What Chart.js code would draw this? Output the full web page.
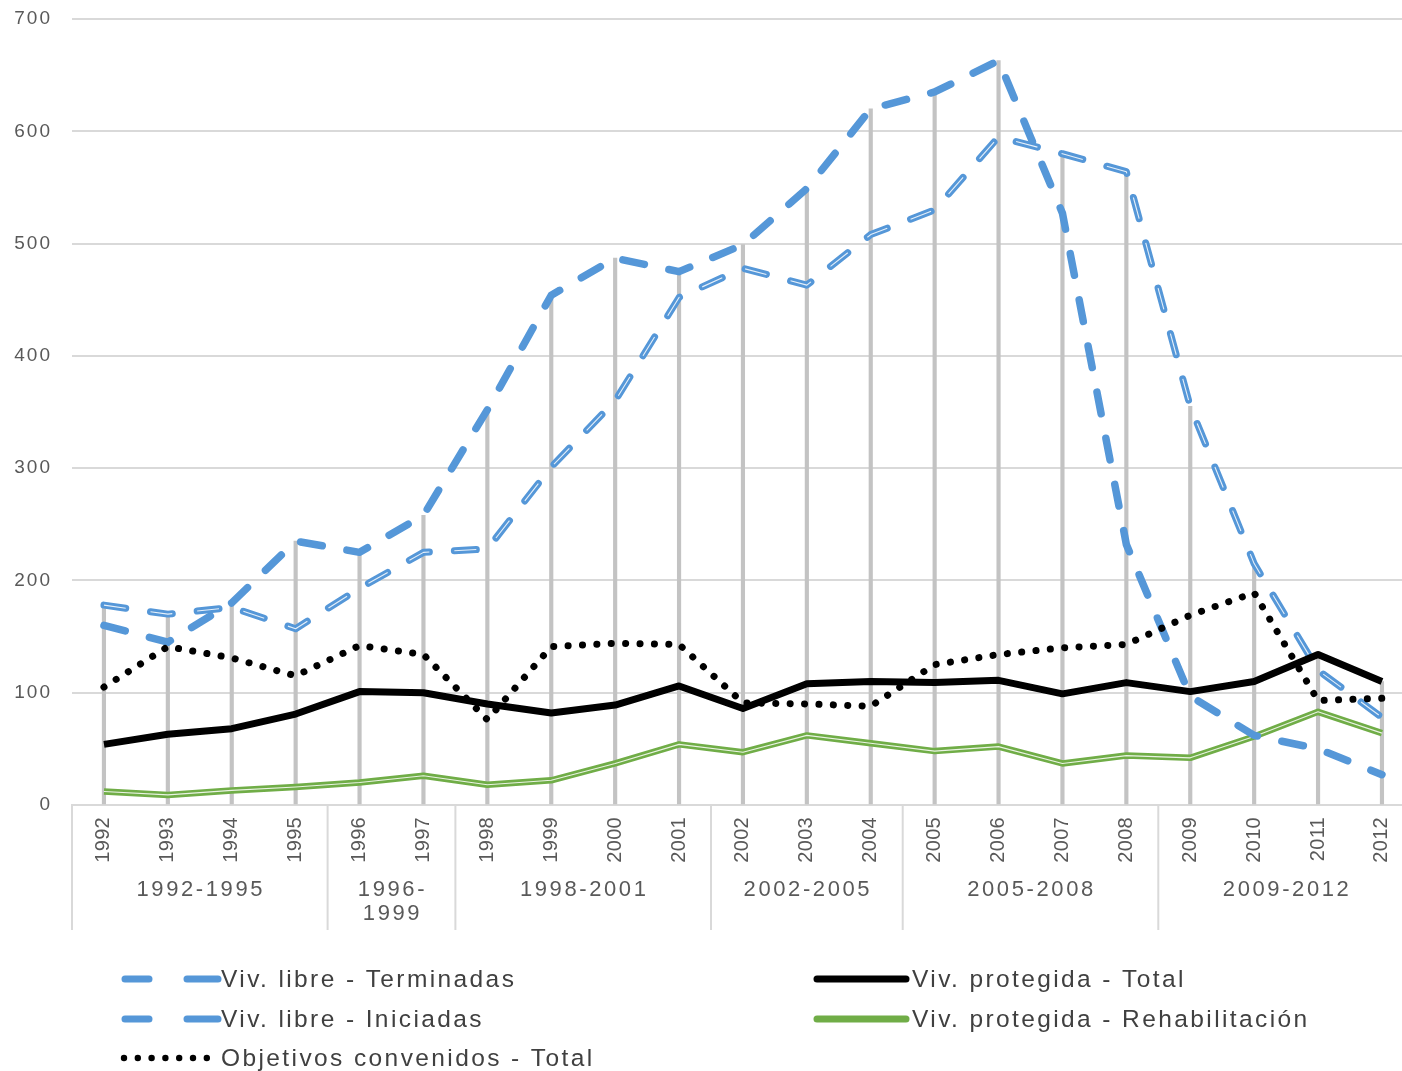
<!DOCTYPE html>
<html>
<head>
<meta charset="utf-8">
<script src="https://cdn.jsdelivr.net/npm/chart.js@4.4.1/dist/chart.umd.min.js"></script>
<style>
  html, body { margin: 0; padding: 0; background: #fff; overflow: hidden; }
  #wrap { width: 1418px; height: 1071px; position: relative; }
</style>
</head>
<body>
<div id="wrap"><canvas id="chart"></canvas></div>
<script>
// years on the x axis and the plan periods grouped under them
const years = ['1992', '1993', '1994', '1995', '1996', '1997', '1998', '1999', '2000', '2001', '2002',
  '2003', '2004', '2005', '2006', '2007', '2008', '2009', '2010', '2011', '2012'];
const periodLabels = [['1992-1995'], ['1996-', '1999'], ['1998-2001'], ['2002-2005'], ['2005-2008'], ['2009-2012']];
const periodSizes = [4, 2, 4, 3, 4, 4];

// series (thousands of dwellings)
const libreTerminadas = [178, 170, 176, 157, 193, 225, 228, 301, 360, 452, 478, 463, 508, 530, 595, 580, 564, 355, 215, 120, 78];
const libreIniciadas = [160, 145, 180, 235, 225, 258, 352, 454, 487, 475, 499, 549, 620, 635, 663, 527, 232, 97, 62, 50, 27];
const objetivosTotal = [105, 141, 131, 115, 142, 134, 76, 141, 144, 143, 91, 90, 88, 125, 134, 140, 143, 169, 189, 93, 95];
const protegidaTotal = [54, 63, 68, 81, 101, 100, 90, 82, 89, 106, 86, 108, 110, 109, 111, 99, 109, 101, 110, 134, 110];
const protegidaRehab = [12, 9, 13, 16, 20, 26, 18, 22, 37, 54, 47, 62, 55, 48, 52, 37, 44, 42, 61, 83, 64];

const seriesLabels = ['Viv. libre - Terminadas', 'Viv. libre - Iniciadas', 'Objetivos convenidos - Total',
  'Viv. protegida - Total', 'Viv. protegida - Rehabilitación'];

// drop lines reach up to the highest series at each year
const dropTops = years.map((_, i) => Math.max(libreTerminadas[i], libreIniciadas[i], objetivosTotal[i],
  protegidaTotal[i], protegidaRehab[i]));

const BLUE = '#5597d8';
const GREEN = '#70ad47';
const TEXT = '#595959';
const FONT = '"Liberation Sans", Arial, sans-serif';
const BLUE_DASH = [22, 25];

const spacing = {
  id: 'spacing',
  beforeLayout(chart) { chart.ctx.letterSpacing = '2px'; },
  beforeDraw(chart) { chart.ctx.letterSpacing = '2px'; },
  afterLayout(chart) {
    // year labels are set tighter than the rest of the text
    const sx = chart.scales.x;
    if (sx._tightWrapped) return;
    const orig = sx.drawLabels;
    sx.drawLabels = function (area) {
      const prev = this.ctx.letterSpacing;
      this.ctx.letterSpacing = '0.3px';
      orig.call(this, area);
      this.ctx.letterSpacing = prev;
    };
    sx._tightWrapped = true;
  }
};

// thin white stripe inside the "double" lines
const innerLine = {
  id: 'innerLine',
  afterDatasetDraw(chart, args) {
    const ds = chart.data.datasets[args.index];
    if (!ds.innerLine) return;
    const pts = args.meta.data;
    const ctx = chart.ctx;
    ctx.save();
    ctx.beginPath();
    pts.forEach((p, i) => i ? ctx.lineTo(p.x, p.y) : ctx.moveTo(p.x, p.y));
    ctx.setLineDash(ds.borderDash || []);
    ctx.lineWidth = 1.1;
    ctx.strokeStyle = 'rgba(255,255,255,0.85)';
    ctx.lineCap = 'butt';
    ctx.lineJoin = 'round';
    ctx.stroke();
    ctx.restore();
  }
};

const periodsAndLegend = {
  id: 'periodsAndLegend',
  afterDraw(chart) {
    const x = chart.scales.x;
    const ctx = chart.ctx;
    const top = chart.chartArea.bottom;
    const half = (x.getPixelForValue(1) - x.getPixelForValue(0)) / 2;
    ctx.save();
    ctx.strokeStyle = '#d9d9d9';
    ctx.lineWidth = 2;
    ctx.fillStyle = TEXT;
    ctx.font = '22px ' + FONT;
    ctx.letterSpacing = '2.6px';
    ctx.textAlign = 'center';
    ctx.textBaseline = 'middle';
    let start = 0;
    const left0 = x.getPixelForValue(0) - half;
    ctx.beginPath();
    ctx.moveTo(left0, top);
    ctx.lineTo(left0, 930);
    ctx.stroke();
    periodSizes.forEach((n, g) => {
      const l = x.getPixelForValue(start) - half;
      const r = x.getPixelForValue(start + n - 1) + half;
      ctx.beginPath();
      ctx.moveTo(r, top);
      ctx.lineTo(r, 930);
      ctx.stroke();
      periodLabels[g].forEach((t, k) => ctx.fillText(t, (l + r) / 2 + 1, 890 + k * 24));
      start += n;
    });

    // legend, two columns
    const ds = chart.data.datasets;
    const rows = [979, 1019, 1058];
    const items = [
      { i: 0, x: 120, tx: 221, y: rows[0] },
      { i: 1, x: 120, tx: 221, y: rows[1] },
      { i: 2, x: 120, tx: 221, y: rows[2] },
      { i: 3, x: 814, tx: 912, y: rows[0] },
      { i: 4, x: 814, tx: 912, y: rows[1] }
    ];
    ctx.letterSpacing = '2.4px';
    ctx.font = '24.5px ' + FONT;
    ctx.textAlign = 'left';
    items.forEach(it => {
      const d = ds[it.i];
      ctx.strokeStyle = d.borderColor;
      ctx.fillStyle = d.borderColor;
      ctx.lineCap = 'round';
      ctx.setLineDash([]);
      if (it.i <= 1) {
        ctx.lineWidth = 7;
        ctx.beginPath();
        ctx.moveTo(it.x + 5, it.y); ctx.lineTo(it.x + 29, it.y);
        ctx.moveTo(it.x + 67, it.y); ctx.lineTo(it.x + 98, it.y);
        ctx.stroke();
      } else if (it.i === 2) {
        for (let k = 0; k < 7; k++) {
          ctx.beginPath();
          ctx.arc(it.x + 4 + k * 13.8, it.y, 3.2, 0, Math.PI * 2);
          ctx.fill();
        }
      } else {
        ctx.lineWidth = 7;
        ctx.beginPath();
        ctx.moveTo(it.x + 3, it.y); ctx.lineTo(it.x + 92, it.y);
        ctx.stroke();
      }
      ctx.fillStyle = '#404040';
      ctx.fillText(d.label, it.tx, it.y + 1);
    });
    ctx.restore();
  }
};

new Chart(document.getElementById('chart'), {
  type: 'line',
  data: {
    labels: years,
    datasets: [{
      label: seriesLabels[0],
      data: libreTerminadas,
      borderColor: BLUE,
      borderWidth: 7,
      borderDash: BLUE_DASH,
      borderCapStyle: 'round',
      borderJoinStyle: 'round',
      innerLine: true,
      order: 3
    }, {
      label: seriesLabels[1],
      data: libreIniciadas,
      borderColor: BLUE,
      borderWidth: 7.5,
      borderDash: BLUE_DASH,
      borderCapStyle: 'round',
      borderJoinStyle: 'round',
      order: 4
    }, {
      label: seriesLabels[2],
      data: objetivosTotal,
      borderColor: '#000000',
      borderWidth: 7,
      borderDash: [0.1, 14.3],
      borderCapStyle: 'round',
      order: 1
    }, {
      label: seriesLabels[3],
      data: protegidaTotal,
      borderColor: '#000000',
      borderWidth: 7,
      borderJoinStyle: 'round',
      order: 2
    }, {
      label: seriesLabels[4],
      data: protegidaRehab,
      borderColor: GREEN,
      borderWidth: 6.5,
      borderJoinStyle: 'round',
      innerLine: true,
      order: 5
    }, {
      type: 'bar',
      label: 'drop',
      data: dropTops,
      backgroundColor: '#c3c3c3',
      barThickness: 3.5,
      order: 10
    }]
  },
  options: {
    responsive: true,
    maintainAspectRatio: false,
    animation: false,
    layout: { padding: { top: 19, right: 2, left: 0, bottom: 0 } },
    elements: { point: { radius: 0 }, line: { tension: 0 } },
    plugins: { legend: { display: false }, tooltip: { enabled: false } },
    scales: {
      x: {
        offset: true,
        grid: { display: false, drawTicks: false },
        border: { display: true, color: '#d9d9d9', width: 2 },
        ticks: {
          autoSkip: false, minRotation: 90, maxRotation: 90, padding: 12,
          color: TEXT, font: { family: FONT, size: 20 }
        },
        afterFit(s) { s.height = 266; }
      },
      y: {
        min: 0, max: 700,
        grid: { color: '#d9d9d9', lineWidth: 2, drawTicks: false },
        border: { display: false },
        ticks: { stepSize: 100, padding: 20, color: TEXT, font: { family: FONT, size: 19 } },
        afterFit(s) { s.width = 72; s.paddingTop = 12; s.paddingBottom = 12; }
      }
    }
  },
  plugins: [spacing, innerLine, periodsAndLegend]
});
</script>
</body>
</html>
